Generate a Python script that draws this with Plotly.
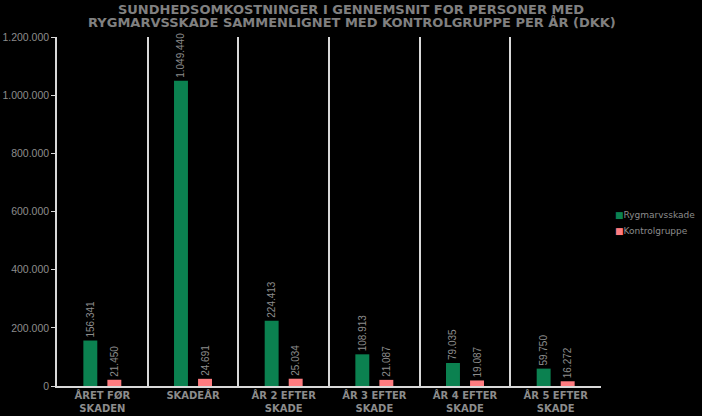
import plotly.graph_objects as go

categories = ["ÅRET FØR<br>SKADEN", "SKADEÅR", "ÅR 2 EFTER<br>SKADE", "ÅR 3 EFTER<br>SKADE", "ÅR 4 EFTER<br>SKADE", "ÅR 5 EFTER<br>SKADE"]
series_names = ["Rygmarvsskade", "Kontrolgruppe"]
rygmarv = [156341, 1049440, 224413, 108913, 79035, 59750]
kontrol = [21450, 24691, 25034, 21087, 19087, 16272]
y_ticks = [0, 200000, 400000, 600000, 800000, 1000000, 1200000]
colors = ["#0b8150", "#ff7c80"]
title_lines = ["SUNDHEDSOMKOSTNINGER I GENNEMSNIT FOR PERSONER MED",
               "RYGMARVSSKADE SAMMENLIGNET MED KONTROLGRUPPE PER ÅR (DKK)"]

gray = "#8c8c8c"
font_family = "Liberation Sans, Arial, sans-serif"
bold_family = "DejaVu Sans, Verdana, sans-serif"

fig = go.Figure()
for name, vals, col in zip(series_names, [rygmarv, kontrol], colors):
    fig.add_trace(go.Bar(
        name=name, x=categories, y=vals,
        marker=dict(color=col, line=dict(width=0)),
        text=[f"{v:,}".replace(",", ".") for v in vals],
        textposition="outside", textangle=-90,
        textfont=dict(size=10, color=gray, family=font_family),
        cliponaxis=False, showlegend=False, hoverinfo="skip",
    ))

# legend drawn as annotations (small square + label)
for name, col, ypos in zip(series_names, colors, [0.49, 0.443]):
    fig.add_annotation(
        xref="paper", yref="paper", x=1.022, y=ypos,
        xanchor="left", yanchor="middle", showarrow=False,
        text=f"<span style='color:{col}'>■</span>{name}",
        font=dict(size=9, color=gray, family=bold_family),
    )

# second title line
fig.add_annotation(
    xref="paper", yref="paper", x=(352 - 57) / 544, y=(386 - 22.5) / 349,
    xanchor="center", yanchor="middle", showarrow=False,
    text=f"<b>{title_lines[1]}</b>",
    font=dict(size=13, color="#808080", family=bold_family),
)

fig.update_layout(
    width=702, height=416,
    paper_bgcolor="black", plot_bgcolor="black",
    margin=dict(l=57, r=101, t=37, b=30, autoexpand=False),
    barmode="group", bargap=0.47, bargroupgap=0.42,
    separators=",.",
    uniformtext=dict(minsize=8, mode="show"),
    showlegend=False,
    title=dict(
        text=f"<b>{title_lines[0]}</b>",
        x=0.5, xref="container", xanchor="center",
        y=1 - 9 / 416, yref="container", yanchor="middle",
        font=dict(size=13, color="#808080", family=bold_family),
        automargin=False,
    ),
    xaxis=dict(
        showgrid=True, tickson="boundaries", gridcolor="#d9d9d9", gridwidth=1.5,
        showline=True, linecolor="#d9d9d9", linewidth=1.5,
        ticks="", automargin=False, ticklabelstandoff=-1,
        tickfont=dict(size=10, color=gray, family=bold_family, weight="bold"),
        fixedrange=True,
    ),
    yaxis=dict(
        range=[0, 1200000], tickvals=y_ticks, tickformat=",d",
        showgrid=False, zeroline=False, automargin=False,
        showline=True, linecolor="#d9d9d9", linewidth=1.5,
        ticks="outside", ticklen=4, tickcolor="#d9d9d9",
        tickfont=dict(size=10.5, color=gray, family=font_family),
    ),
)

fig.write_html("out.html", config={"displayModeBar": False},
               post_script="document.body.style.margin='0';document.body.style.background='black';")
